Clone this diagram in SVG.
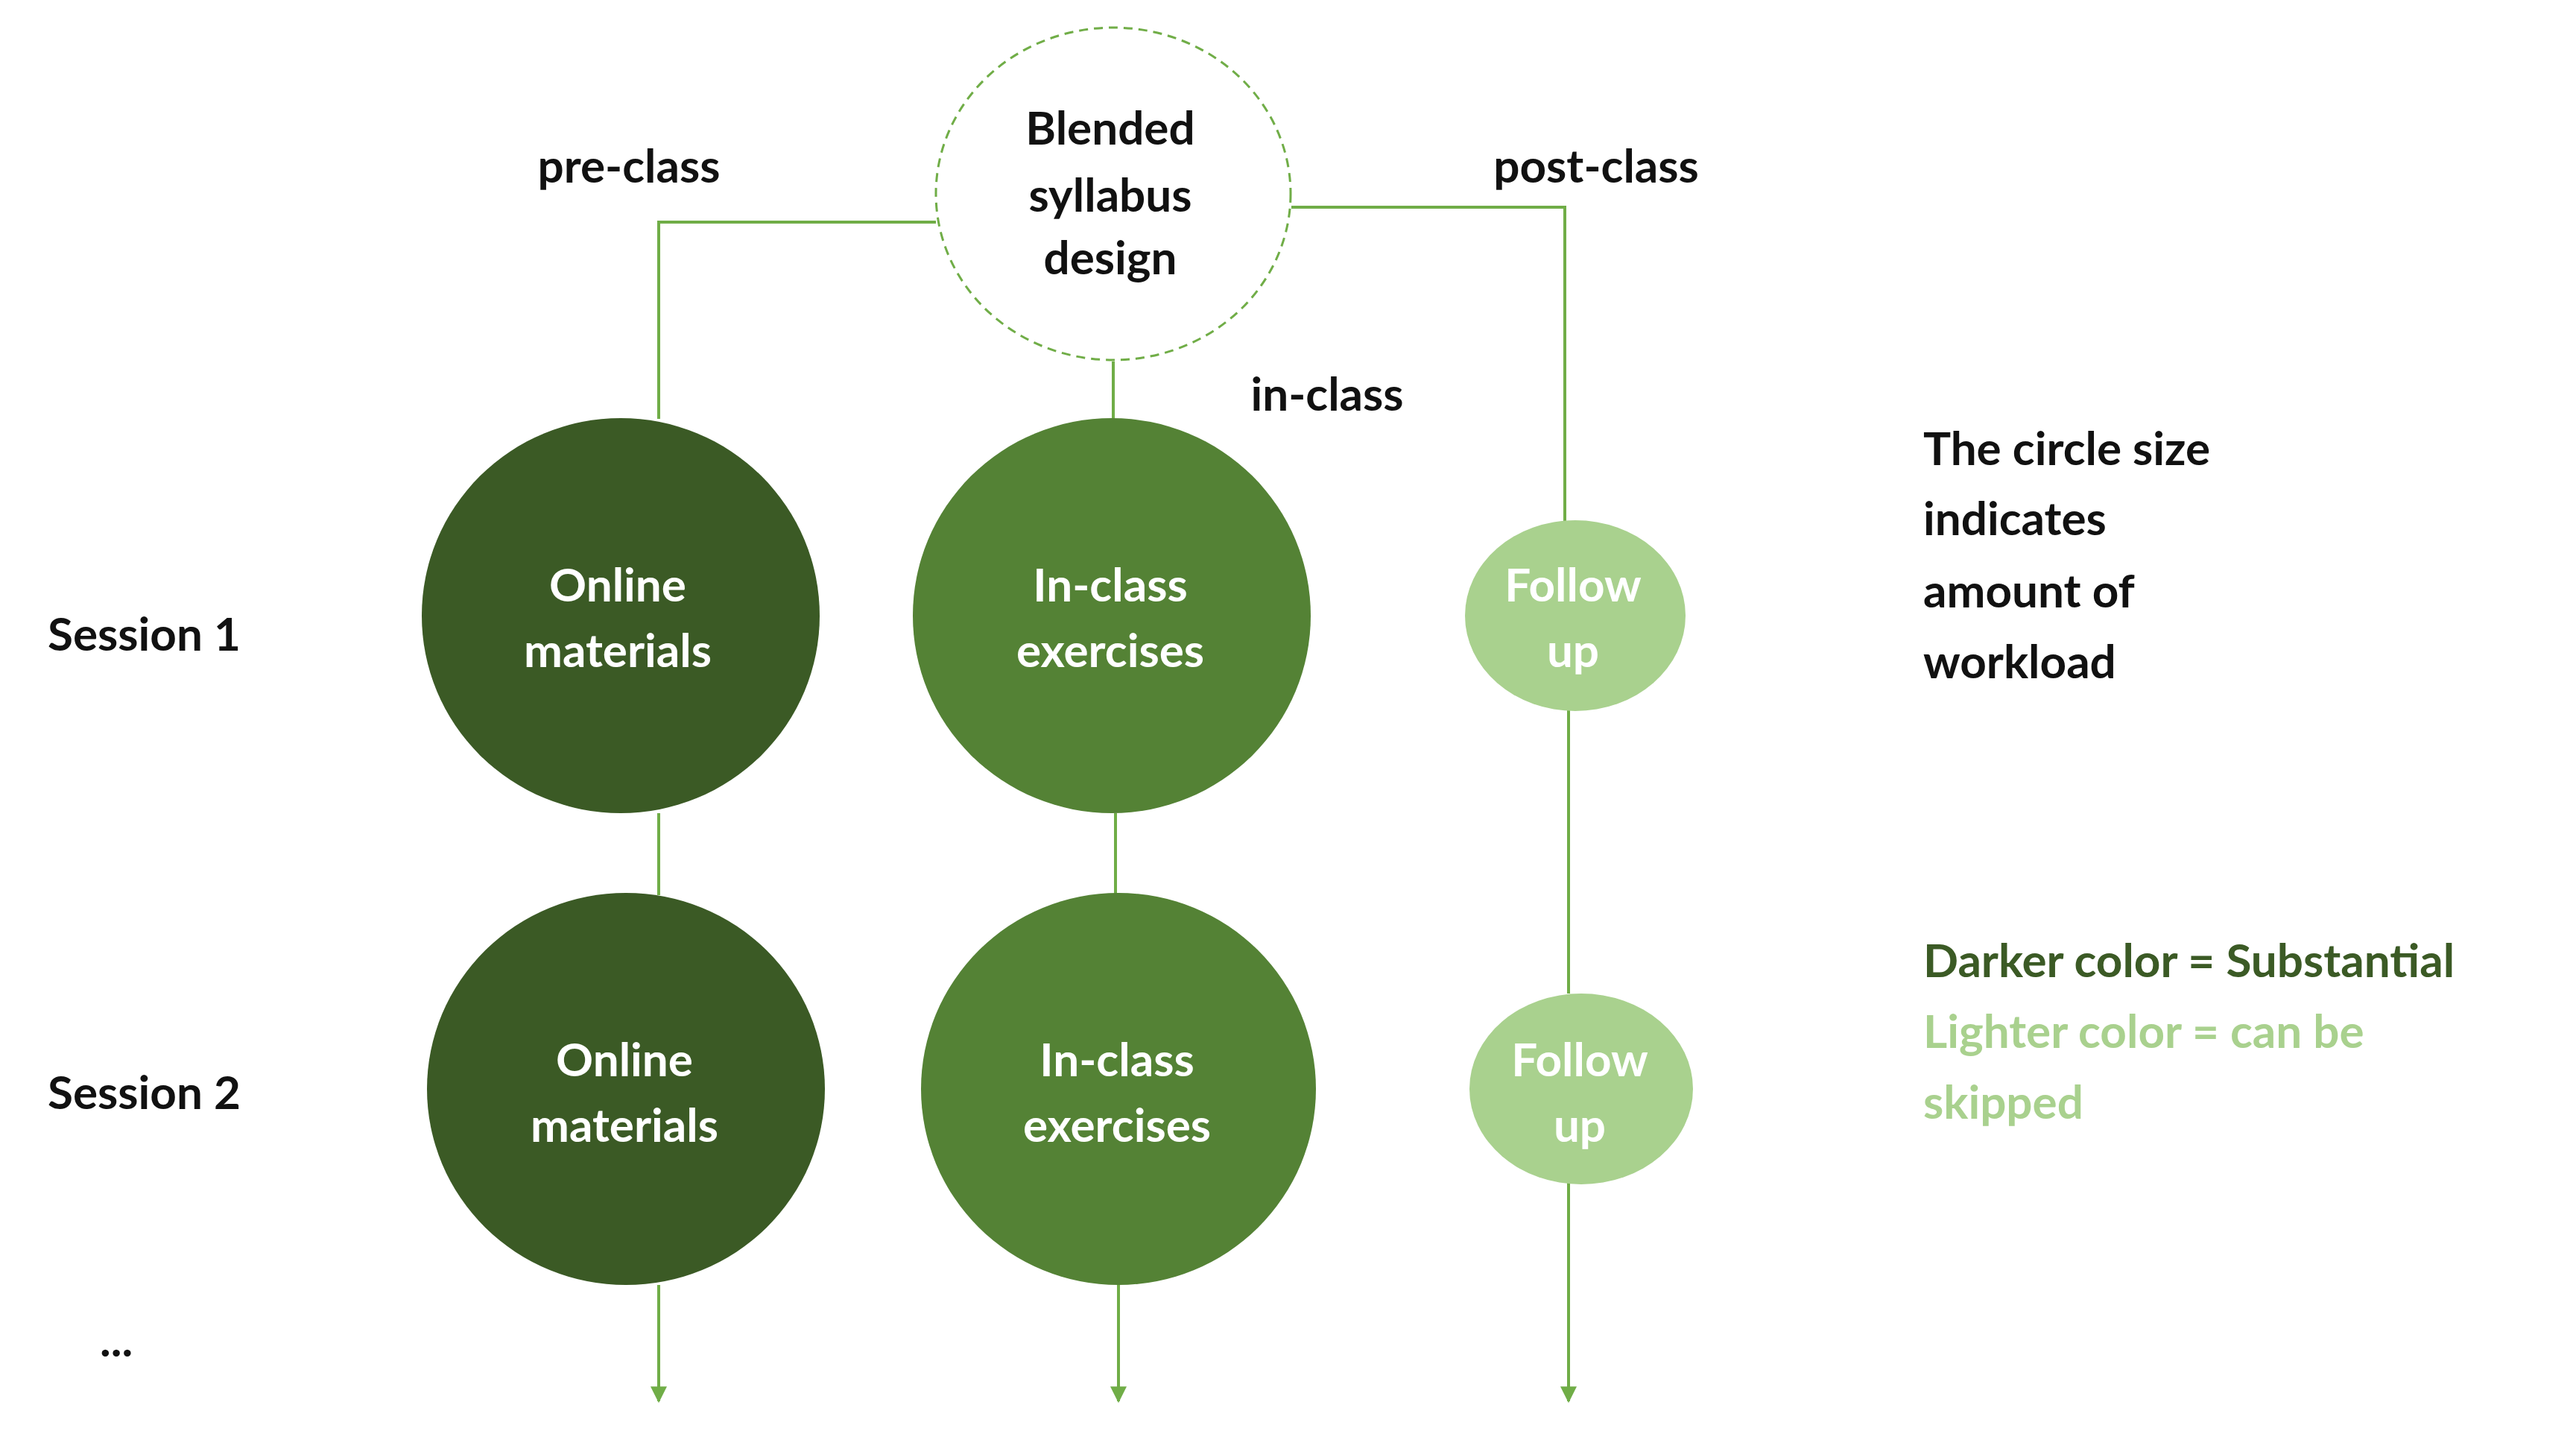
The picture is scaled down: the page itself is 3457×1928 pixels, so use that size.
<svg xmlns="http://www.w3.org/2000/svg" width="3457" height="1928" viewBox="0 0 3457 1928">
<style>
text{font-family:Lato,"Open Sans","Liberation Sans",sans-serif;font-weight:bold;font-size:62px;text-anchor:middle}
.w{fill:#fff}.k{fill:#111}.l{text-anchor:start}
.c{fill:none;stroke:#70ad47;stroke-width:4}
</style>
<defs><marker id="a" viewBox="0 0 10 10" refX="5" refY="10" markerWidth="6" markerHeight="6" markerUnits="userSpaceOnUse" orient="auto"><path d="M0,0L10,0L5,10Z" fill="#70ad47"/></marker>
<marker id="b" viewBox="0 0 10 10" refX="5" refY="9" markerWidth="22" markerHeight="22" markerUnits="userSpaceOnUse" orient="0"><path d="M0,0L10,0L5,10Z" fill="#70ad47"/></marker></defs>
<rect width="3457" height="1928" fill="#fff"/>
<g id="connectors">
<path class="c" d="M1256,298H884V562"/>
<path class="c" d="M1494,485V562"/>
<path class="c" d="M1733,278H2100V700"/>
<path class="c" d="M884,1091V1201"/>
<path class="c" d="M1497,1091V1201"/>
<path class="c" d="M2105,952V1333"/>
<path class="c" d="M884,1724V1880" marker-end="url(#b)"/>
<path class="c" d="M1501,1724V1880" marker-end="url(#b)"/>
<path class="c" d="M2105,1587V1880" marker-end="url(#b)"/>
</g>
<g id="blended"><ellipse cx="1494" cy="260" rx="238" ry="223" fill="#fff" stroke="#70ad47" stroke-width="3" stroke-dasharray="12,8"/>
<text class="k" x="1490" y="194">Blended</text><text class="k" x="1490" y="284">syllabus</text><text class="k" x="1490" y="368">design</text></g>
<g id="online1"><ellipse cx="833" cy="826" rx="267" ry="265" fill="#3b5a25"/><text class="w" x="829" y="807">Online</text><text class="w" x="829" y="895">materials</text></g>
<g id="inclass1"><ellipse cx="1492" cy="826" rx="267" ry="265" fill="#548235"/><text class="w" x="1490" y="807">In-class</text><text class="w" x="1490" y="895">exercises</text></g>
<g id="follow1"><ellipse cx="2114" cy="826" rx="148" ry="128" fill="#a9d18e"/><text class="w" x="2111" y="807">Follow</text><text class="w" x="2111" y="895">up</text></g>
<g id="online2"><ellipse cx="840" cy="1461" rx="267" ry="263" fill="#3b5a25"/><text class="w" x="838" y="1444">Online</text><text class="w" x="838" y="1532">materials</text></g>
<g id="inclass2"><ellipse cx="1501" cy="1461" rx="265" ry="263" fill="#548235"/><text class="w" x="1499" y="1444">In-class</text><text class="w" x="1499" y="1532">exercises</text></g>
<g id="follow2"><ellipse cx="2122" cy="1461" rx="150" ry="128" fill="#a9d18e"/><text class="w" x="2120" y="1444">Follow</text><text class="w" x="2120" y="1532">up</text></g>
<g id="labels">
<text class="k" x="844" y="245">pre-class</text>
<text class="k" x="2142" y="245">post-class</text>
<text class="k" x="1781" y="551">in-class</text>
<text class="k l" x="64" y="873">Session 1</text>
<text class="k l" x="64" y="1488">Session 2</text>
<text class="k l" x="134" y="1820">...</text>
<text class="k l" x="2581" y="624">The circle size</text>
<text class="k l" x="2581" y="718">indicates</text>
<text class="k l" x="2581" y="815">amount of</text>
<text class="k l" x="2581" y="910">workload</text>
<text class="l" x="2581" y="1311" fill="#3b5a25">Darker color = Substantial</text>
<text class="l" x="2581" y="1406" fill="#a9d18e">Lighter color = can be</text>
<text class="l" x="2581" y="1501" fill="#a9d18e">skipped</text>
</g>
</svg>
